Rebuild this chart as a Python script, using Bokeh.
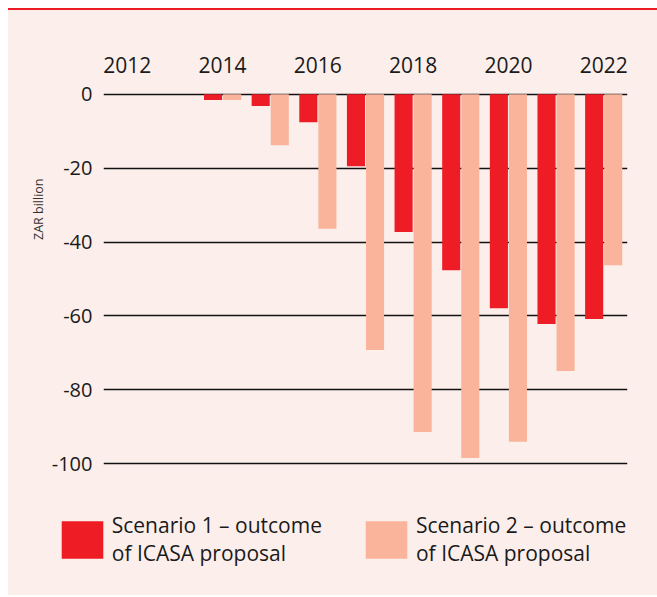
from bokeh.plotting import figure
from bokeh.models import (ColumnDataSource, FixedTicker, Legend, LegendItem,
                          Range1d, Title)
from bokeh.layouts import column
from bokeh.transform import dodge
from bokeh.embed import file_html
from bokeh.resources import INLINE

# ---- data ----
years = [2012, 2013, 2014, 2015, 2016, 2017, 2018, 2019, 2020, 2021, 2022]
scenario1 = [0, 0, -1.6, -3.2, -7.6, -19.5, -37.3, -47.6, -57.9, -62.2, -60.8]
scenario2 = [0, 0, -1.6, -13.8, -36.4, -69.2, -91.4, -98.4, -94.0, -74.9, -46.3]
year_ticks = [2012, 2014, 2016, 2018, 2020, 2022]
value_ticks = [0, -20, -40, -60, -80, -100]
value_labels = ["0", "-20", "-40", "-60", "-80", "-100"]
label1 = "Scenario 1 \u2013 outcome\nof ICASA proposal"
label2 = "Scenario 2 \u2013 outcome\nof ICASA proposal"
axis_title = "ZAR billion"

BG = "#FCEFEB"
RED = "#EE1C25"
SALMON = "#F9B49B"
TXT = "#1A1A1A"
FONT = "Open Sans"

src = ColumnDataSource(dict(year=years, s1=scenario1, s2=scenario2))

# ---------------- main chart ----------------
p = figure(width=649, height=470, output_backend="svg", toolbar_location=None,
           x_axis_location="above",
           x_range=Range1d(2011.5, 2022.5), y_range=Range1d(-101, 1),
           min_border_left=95, min_border_right=30, min_border_top=80,
           min_border_bottom=13)
p.frame_align = False
p.background_fill_color = BG
p.border_fill_color = BG
p.outline_line_color = None

p.vbar(x=dodge("year", -0.2, range=p.x_range), width=0.38, top=0, bottom="s1",
       source=src, fill_color=RED, line_color=None)
p.vbar(x=dodge("year", 0.2, range=p.x_range), width=0.38, top=0, bottom="s2",
       source=src, fill_color=SALMON, line_color=None)

xa = p.xaxis[0]
xa.ticker = FixedTicker(ticks=year_ticks)
xa.axis_line_color = None
xa.major_tick_line_color = None
xa.minor_tick_line_color = None
xa.major_label_text_font = FONT
xa.major_label_text_font_size = "21px"
xa.major_label_text_color = TXT
xa.major_label_standoff = 12

ya = p.yaxis[0]
ya.ticker = FixedTicker(ticks=value_ticks)
ya.major_label_overrides = {t: s for t, s in zip(value_ticks, value_labels)}
ya.axis_line_color = None
ya.major_tick_line_color = None
ya.minor_tick_line_color = None
ya.major_label_text_font = FONT
ya.major_label_text_font_size = "20px"
ya.major_label_text_color = TXT
ya.major_label_standoff = 5

# vertical title, anchored near the top like the reference
p.add_layout(Title(text=axis_title, align="right", offset=88,
                   text_font=FONT, text_font_style="normal",
                   text_font_size="12.5px", text_color="#333333",
                   standoff=4), "left")

p.xgrid.grid_line_color = None
p.ygrid.ticker = FixedTicker(ticks=value_ticks)
p.ygrid.grid_line_color = "#111111"
p.ygrid.grid_line_width = 1.6

# ---------------- legend strip ----------------
lg = figure(width=649, height=115, output_backend="svg", toolbar_location=None,
            x_axis_location=None, y_axis_location=None,
            x_range=Range1d(2011.5, 2022.5), y_range=Range1d(1, 2),
            min_border=0)
lg.frame_align = False
lg.background_fill_color = BG
lg.border_fill_color = BG
lg.outline_line_color = None
lg.grid.visible = False
k1 = lg.vbar(x="year", width=0.38, top=0, bottom="s1", source=src,
             fill_color=RED, line_color=None)
k2 = lg.vbar(x="year", width=0.38, top=0, bottom="s2", source=src,
             fill_color=SALMON, line_color=None)

legend = Legend(items=[LegendItem(label=label1, renderers=[k1]),
                       LegendItem(label=label2, renderers=[k2])],
                location=(47.75, 28), orientation="horizontal")
legend.background_fill_alpha = 0
legend.border_line_alpha = 0
legend.padding = 0
legend.margin = 0
legend.spacing = 38
legend.glyph_width = 52
legend.glyph_height = 47
legend.label_standoff = 4
legend.label_text_font = FONT
legend.label_text_font_size = "21px"
legend.label_text_color = TXT
lg.add_layout(legend, "center")

root = column(p, lg, spacing=0, margin=(8, 0, 0, 8),
              styles={"border-top": "2px solid " + RED, "background-color": BG})
open("out.html", "w").write(file_html(root, INLINE))
